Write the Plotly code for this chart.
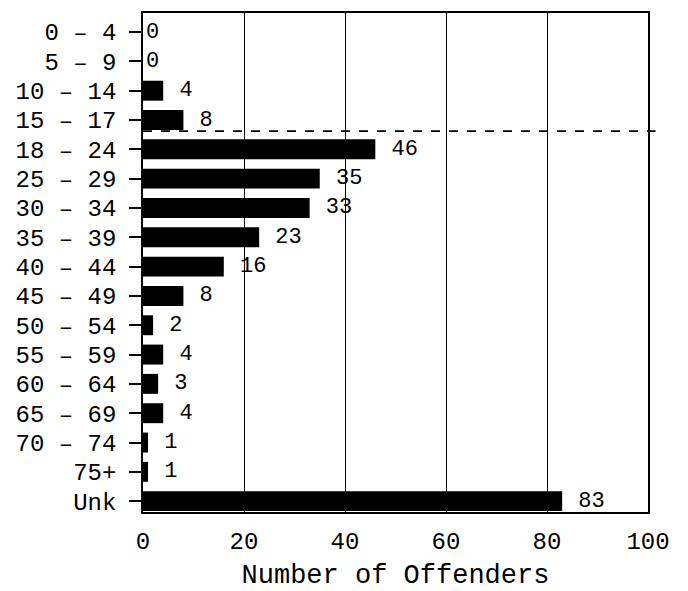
import plotly.graph_objects as go

age_groups = ["0 – 4", "5 – 9", "10 – 14", "15 – 17", "18 – 24", "25 – 29",
              "30 – 34", "35 – 39", "40 – 44", "45 – 49", "50 – 54", "55 – 59",
              "60 – 64", "65 – 69", "70 – 74", "75+", "Unk"]
offenders = [0, 0, 4, 8, 46, 35, 33, 23, 16, 8, 2, 4, 3, 4, 1, 1, 83]
x_ticks = [0, 20, 40, 60, 80, 100]

FONT = "Liberation Mono"

labels = [(" " + str(v)) if v > 0 else str(v) for v in offenders]

fig = go.Figure()
fig.add_trace(go.Bar(
    x=offenders, y=age_groups, orientation="h",
    marker=dict(color="black", line=dict(width=0)),
    text=labels, textposition="outside", constraintext="none",
    textfont=dict(family=FONT, size=22, color="black"),
    cliponaxis=False,
))

# dashed separator between juveniles and adults
fig.add_shape(type="line", xref="paper", yref="y", x0=0, x1=1.015, y0=3.38, y1=3.38,
              line=dict(color="black", width=1.6, dash="dash"))

fig.update_layout(
    width=688, height=591,
    margin=dict(l=143, r=40, t=13, b=79),
    paper_bgcolor="white", plot_bgcolor="white",
    showlegend=False, bargap=0.32,
    font=dict(family=FONT, size=22, color="black"),
    xaxis=dict(range=[0, 100], tickvals=x_ticks, ticktext=[str(v) for v in x_ticks],
               automargin=False,
               showgrid=True, gridcolor="black", gridwidth=1,
               showline=True, linecolor="black", linewidth=1.5, mirror=True,
               ticks="", ticklabelstandoff=6, zeroline=False,
               tickfont=dict(family=FONT, size=24),
               title=dict(text="Number of Offenders", standoff=12,
                          font=dict(family=FONT, size=27))),
    yaxis=dict(categoryorder="array", categoryarray=age_groups,
               automargin=False,
               range=[16.37, -0.65], showgrid=False,
               showline=True, linecolor="black", linewidth=1.5, mirror=True,
               ticks="outside", ticklen=12, tickwidth=1.5, tickcolor="black",
               ticklabelstandoff=8,
               tickfont=dict(family=FONT, size=24)),
)

fig.write_html("out.html", config={"displayModeBar": False},
               post_script="document.body.style.margin='0';document.body.style.overflow='hidden';")
